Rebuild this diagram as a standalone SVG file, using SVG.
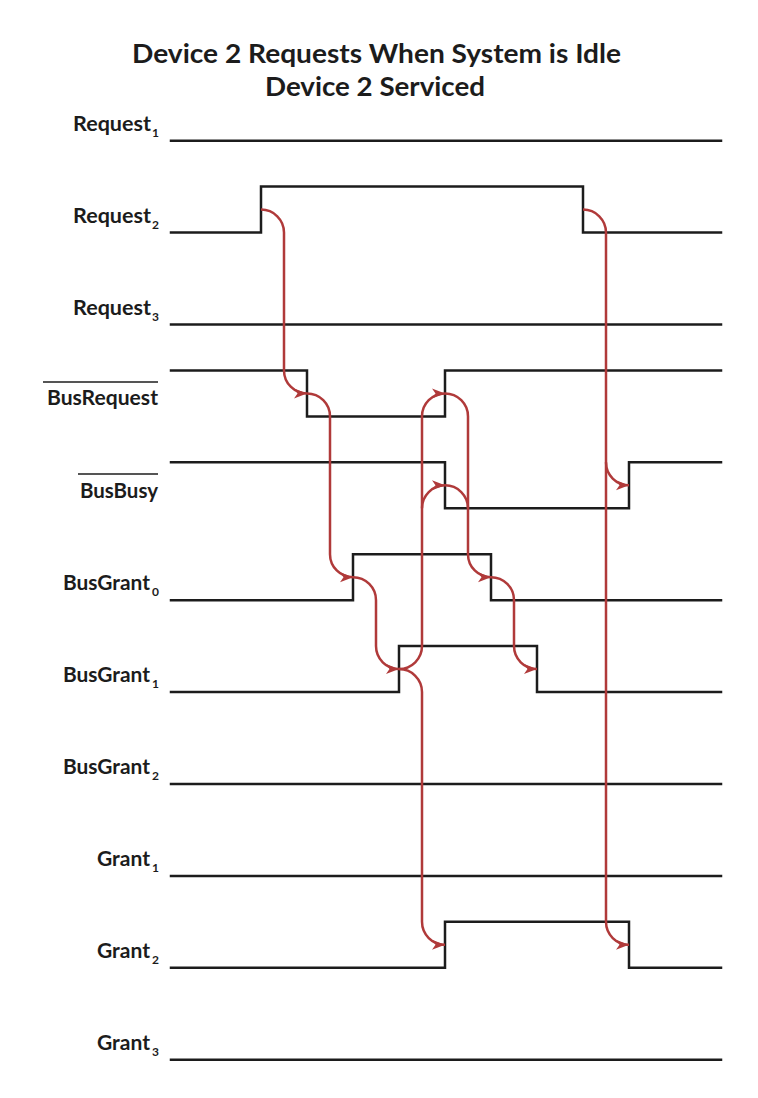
<svg xmlns="http://www.w3.org/2000/svg" width="758" height="1098" viewBox="0 0 758 1098">
<style>
.bg{fill:#ffffff}
.sig{fill:none;stroke:#1c1c1c;stroke-width:2.5;stroke-linejoin:miter;stroke-linecap:square}
.con{fill:none;stroke:#b03a3a;stroke-width:2.5;marker-end:url(#ah)}
.title{font-family:Lato,"Open Sans","Liberation Sans",sans-serif;font-weight:bold;font-size:26.5px;fill:#1c1c1c;text-anchor:middle}
.lbl{font-family:Lato,"Open Sans","Liberation Sans",sans-serif;font-weight:bold;font-size:21px;fill:#1c1c1c;text-anchor:end}
.sub{font-family:Lato,"Open Sans","Liberation Sans",sans-serif;font-weight:bold;font-size:12px;fill:#1c1c1c}
.ovl{stroke:#1c1c1c;stroke-width:1.3}
</style>
<defs>
<marker id="ah" markerUnits="userSpaceOnUse" markerWidth="14" markerHeight="11" refX="13" refY="5" orient="auto">
<path d="M0,0 L13,5 L0,10 L3.5,5 Z" fill="#b03a3a"/>
</marker>
</defs>
<rect class="bg" x="0" y="0" width="758" height="1098"/>
<g id="title">
<text class="title" x="376.5" y="63" textLength="489" lengthAdjust="spacingAndGlyphs">Device 2 Requests When System is Idle</text>
<text class="title" x="375" y="96" textLength="220" lengthAdjust="spacingAndGlyphs">Device 2 Serviced</text>
</g>
<g id="request1">
<text class="lbl" x="151" y="131" textLength="78" lengthAdjust="spacingAndGlyphs">Request</text><text class="sub" x="152" y="137">1</text>
<path class="sig" d="M171,140.7 H721"/>
</g>
<g id="request2">
<text class="lbl" x="151" y="223" textLength="78" lengthAdjust="spacingAndGlyphs">Request</text><text class="sub" x="152" y="229">2</text>
<path class="sig" d="M171,232.6 H261 V186.6 H583 V232.6 H721"/>
</g>
<g id="request3">
<text class="lbl" x="151" y="315" textLength="78" lengthAdjust="spacingAndGlyphs">Request</text><text class="sub" x="152" y="321">3</text>
<path class="sig" d="M171,324.5 H721"/>
</g>
<g id="busrequest">
<line class="ovl" x1="43" y1="382" x2="158" y2="382"/>
<text class="lbl" x="158" y="405" textLength="111" lengthAdjust="spacingAndGlyphs">BusRequest</text>
<path class="sig" d="M171,370.4 H307 V416.4 H445 V370.4 H721"/>
</g>
<g id="busbusy">
<line class="ovl" x1="78" y1="474" x2="158" y2="474"/>
<text class="lbl" x="158" y="498" textLength="78" lengthAdjust="spacingAndGlyphs">BusBusy</text>
<path class="sig" d="M171,462.3 H445 V508.3 H629 V462.3 H721"/>
</g>
<g id="busgrant0">
<text class="lbl" x="150" y="590" textLength="87" lengthAdjust="spacingAndGlyphs">BusGrant</text><text class="sub" x="152" y="596">0</text>
<path class="sig" d="M171,600.2 H353 V554.2 H491 V600.2 H721"/>
</g>
<g id="busgrant1">
<text class="lbl" x="150" y="682" textLength="87" lengthAdjust="spacingAndGlyphs">BusGrant</text><text class="sub" x="152" y="688">1</text>
<path class="sig" d="M171,692.1 H399 V646.1 H537 V692.1 H721"/>
</g>
<g id="busgrant2">
<text class="lbl" x="150" y="774" textLength="87" lengthAdjust="spacingAndGlyphs">BusGrant</text><text class="sub" x="152" y="780">2</text>
<path class="sig" d="M171,784 H721"/>
</g>
<g id="grant1">
<text class="lbl" x="150" y="866" textLength="53" lengthAdjust="spacingAndGlyphs">Grant</text><text class="sub" x="152" y="872">1</text>
<path class="sig" d="M171,875.9 H721"/>
</g>
<g id="grant2">
<text class="lbl" x="150" y="958" textLength="53" lengthAdjust="spacingAndGlyphs">Grant</text><text class="sub" x="152" y="964">2</text>
<path class="sig" d="M171,967.8 H445 V921.8 H629 V967.8 H721"/>
</g>
<g id="grant3">
<text class="lbl" x="150" y="1050" textLength="53" lengthAdjust="spacingAndGlyphs">Grant</text><text class="sub" x="152" y="1056">3</text>
<path class="sig" d="M171,1059.7 H721"/>
</g>
<g id="connectors">
<path class="con" d="M261,209.6 A23,23 0 0 1 284,232.6 V370.4 A23,23 0 0 0 307,393.4"/>
<path class="con" d="M307,393.4 A23,23 0 0 1 330,416.4 V554.2 A23,23 0 0 0 353,577.2"/>
<path class="con" d="M353,577.2 A23,23 0 0 1 376,600.2 V646.1 A23,23 0 0 0 399,669.1"/>
<path class="con" d="M399,669.1 A23,23 0 0 0 422,646.1 V416.4 A23,23 0 0 1 445,393.4"/>
<path class="con" d="M422,508.3 A23,23 0 0 1 445,485.3"/>
<path class="con" d="M399,669.1 A23,23 0 0 1 422,692.1 V921.8 A23,23 0 0 0 445,944.8"/>
<path class="con" d="M445,393.4 A23,23 0 0 1 468,416.4 V554.2 A23,23 0 0 0 491,577.2"/>
<path class="con" style="marker-end:none" d="M445,485.3 A23,23 0 0 1 468,508.3"/>
<path class="con" d="M491,577.2 A23,23 0 0 1 514,600.2 V646.1 A23,23 0 0 0 537,669.1"/>
<path class="con" d="M583,209.6 A23,23 0 0 1 606,232.6 V462.3 A23,23 0 0 0 629,485.3"/>
<path class="con" d="M606,462.3 V921.8 A23,23 0 0 0 629,944.8"/>
</g>
</svg>
